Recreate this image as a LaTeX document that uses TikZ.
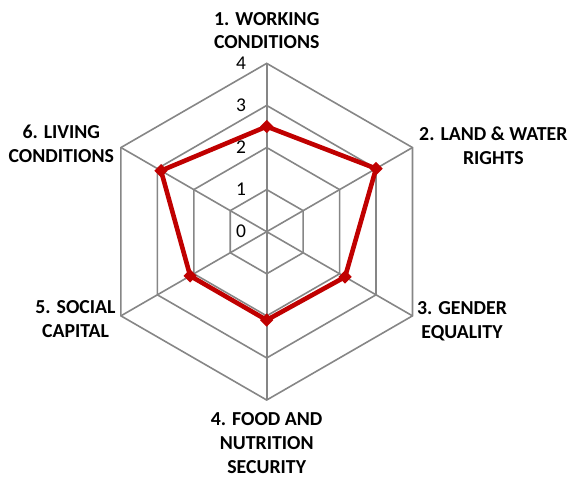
\documentclass[tikz,border=0pt]{standalone}
\usepackage{fontspec}
\setmainfont{Carlito}
\usetikzlibrary{shapes.geometric,calc}
\definecolor{gridgray}{RGB}{134,134,134}
\definecolor{seriesred}{RGB}{192,0,0}
\begin{document}
\begin{tikzpicture}[x=1pt,y=1pt,
  gridline/.style={draw=gridgray, line width=1.6pt},
  series/.style={draw=seriesred, line width=4.6pt, line join=round},
  marker/.style={diamond, fill=seriesred, inner sep=0pt, minimum size=13.5pt},
  cat/.style={font=\fontsize{19.8}{23.8}\selectfont\bfseries, align=center, inner sep=0pt, anchor=north},
  tick/.style={font=\fontsize{19.5}{23.8}\selectfont, inner sep=0pt}]
\path[use as bounding box] (0,0) rectangle (569,477);
\coordinate (O) at (266.7,245.3);
\def\u{42.08}
% grid hexagons
\foreach \k in {1,2,3,4}{
  \draw[gridline, shift={(O)}] (90:{\k*\u}) -- (30:{\k*\u}) -- (-30:{\k*\u}) -- (-90:{\k*\u}) -- (-150:{\k*\u}) -- (150:{\k*\u}) -- cycle;
}
% outer vertices and spokes
\foreach \i/\a in {1/90,2/30,3/-30,4/-90,5/-150,6/150}{
  \coordinate (v\i) at ($(O)+(\a:{4*\u})$);
  \draw[gridline] (O) -- (v\i);
}
% tick labels
\foreach \k in {0,1,2,3,4}{
  \node[tick] (t\k) at (241,{245.3+\k*\u}) {\k};
}
% data
\foreach \i/\a/\val in {1/90/2.5,2/30/3.0,3/-30/2.15,4/-90/2.1,5/-150/2.1,6/150/2.9}{
  \coordinate (d\i) at ($(O)+(\a:{\val*\u})$);
}
\draw[series] (d1) -- (d2) -- (d3) -- (d4) -- (d5) -- (d6) -- cycle;
\foreach \i in {1,...,6}{
  \node[marker] (m\i) at (d\i) {};
}
% category labels
\node[cat] (c1) at (266.7,465) {1. WORKING\\CONDITIONS};
\node[cat] (c2) at (493.3,350.5) {2. LAND \& WATER\\RIGHTS};
\node[cat] (c3) at (462,175.4) {3. GENDER\\EQUALITY};
\node[cat] (c4) at (266.7,64.2) {4. FOOD AND\\NUTRITION\\SECURITY};
\node[cat] (c5) at (75.5,176.7) {5. SOCIAL\\CAPITAL};
\node[cat] (c6) at (61.3,352) {6. LIVING\\CONDITIONS};
\end{tikzpicture}
\end{document}
